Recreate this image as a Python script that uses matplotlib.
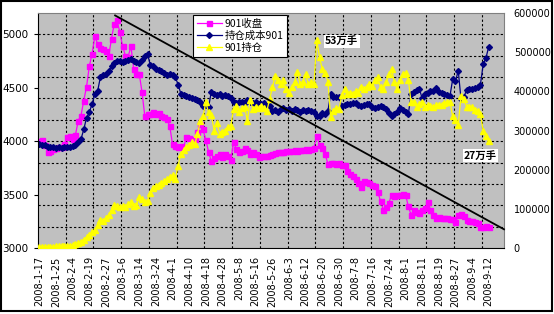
import numpy as np
import matplotlib.pyplot as plt
from matplotlib.patches import Rectangle
from matplotlib.lines import Line2D

# %%
# 901收盘 (left axis)
close_901 = [
    4000, 4010, 3960, 3900, 3910, 3930, 3940, 3950, 3950, 3970,
    4040, 4046, 4020, 4060, 4190, 4240, 4380, 4510, 4700, 4820,
    4980, 4910, 4870, 4860, 4840, 4800, 4960, 5100, 5130, 5020,
    4890, 4800, 4790, 4890, 4680, 4630, 4630, 4460, 4235, 4250,
    4255, 4270, 4250, 4260, 4240, 4225, 4206, 4140, 3970, 3955,
    3950, 3955, 3945, 4036, 4030, 4000, 4020, 4090, 4160, 4110,
    4010, 3900, 3810, 3840, 3860, 3880, 3850, 3880, 3860, 3820,
    3990, 3930, 3900, 3910, 3940, 3920, 3880, 3900, 3880, 3850,
    3860, 3860, 3860, 3870, 3880, 3890, 3895, 3900, 3900, 3905,
    3910, 3910, 3915, 3910, 3920, 3920, 3925, 3920, 3930, 3940,
    4050, 3960, 3940, 3880, 3790, 3795, 3800, 3790, 3795, 3780,
    3780, 3720, 3690, 3670, 3650, 3610, 3570, 3630, 3620, 3610,
    3590, 3580, 3520, 3440, 3360, 3380, 3420, 3500, 3490, 3500,
    3500, 3505, 3500, 3390, 3310, 3360, 3340, 3330, 3360, 3370,
    3430, 3360, 3310, 3280, 3290, 3280, 3280, 3285, 3270, 3270,
    3240, 3310, 3320, 3300, 3260, 3250, 3250, 3240, 3230, 3200,
    3200, 3205, 3200,
]

# 持仓成本901 (left axis)
cost_901 = [
    3970, 3965, 3960, 3950, 3945, 3945, 3940, 3945, 3940, 3945,
    3945, 3950, 3955, 3965, 3990, 4020, 4110, 4220, 4270, 4350,
    4440, 4470, 4600, 4620, 4625, 4660, 4700, 4730, 4750, 4750,
    4745, 4750, 4760, 4770, 4755, 4740, 4735, 4760, 4800, 4815,
    4710, 4700, 4680, 4670, 4660, 4640, 4620, 4630, 4620, 4600,
    4530, 4445, 4430, 4420, 4410, 4400, 4395, 4390, 4370, 4330,
    4340, 4320, 4465, 4440, 4430, 4440, 4420, 4430, 4420, 4400,
    4370, 4360, 4365, 4370, 4355, 4390, 4365, 4360, 4365, 4350,
    4345, 4360, 4340, 4330, 4280, 4290, 4270, 4300, 4310, 4290,
    4300, 4280, 4300, 4290, 4270, 4290, 4280, 4290, 4280, 4270,
    4235, 4240, 4260, 4250, 4280, 4440, 4410, 4410, 4415, 4330,
    4335, 4350, 4345, 4355, 4360, 4335, 4325, 4340, 4350, 4345,
    4320, 4315, 4320, 4330, 4320, 4300, 4260, 4235, 4250, 4270,
    4310, 4290, 4270, 4250, 4440, 4460, 4475, 4490, 4400, 4440,
    4450, 4470, 4470, 4500, 4460, 4450, 4440, 4430, 4420, 4580,
    4560, 4660, 4395, 4410, 4480, 4490, 4490, 4500, 4510, 4530,
    4720, 4780, 4885,
]

# 901持仓 (right axis)
oi_901 = [
    2000, 2500, 3000, 3000, 3500, 3500, 4000, 4000, 4500, 5000,
    5000, 6000, 7500, 10000, 13000, 16000, 21000, 27000, 33000, 40000,
    45000, 60000, 72000, 70000, 76000, 85000, 97000, 110000, 108000, 104000,
    106000, 104000, 112000, 118000, 108000, 110000, 130000, 125000, 118000, 120000,
    140000, 152000, 158000, 162000, 166000, 170000, 176000, 182000, 186000, 176000,
    210000, 240000, 250000, 258000, 262000, 270000, 265000, 290000, 325000, 336000,
    372000, 346000, 340000, 300000, 318000, 292000, 296000, 300000, 310000, 312000,
    354000, 362000, 346000, 358000, 360000, 325000, 378000, 355000, 360000, 358000,
    362000, 358000, 350000, 380000, 410000, 440000, 430000, 418000, 428000, 405000,
    397000, 410000, 425000, 450000, 418000, 425000, 443000, 418000, 423000, 418000,
    530000, 487000, 456000, 448000, 425000, 335000, 350000, 358000, 354000, 390000,
    405000, 392000, 397000, 392000, 400000, 397000, 410000, 405000, 412000, 418000,
    413000, 430000, 436000, 410000, 405000, 423000, 445000, 456000, 423000, 405000,
    430000, 443000, 448000, 430000, 372000, 374000, 361000, 368000, 374000, 361000,
    366000, 362000, 359000, 366000, 364000, 366000, 370000, 372000, 374000, 336000,
    328000, 315000, 387000, 380000, 361000, 360000, 359000, 352000, 349000, 341000,
    300000, 285000, 272000,
]

date_labels = [
    '2008-1-17', '2008-1-25', '2008-2-4', '2008-2-19', '2008-2-27', '2008-3-6',
    '2008-3-14', '2008-3-24', '2008-4-1', '2008-4-10', '2008-4-18', '2008-4-28',
    '2008-5-8', '2008-5-16', '2008-5-26', '2008-6-3', '2008-6-12', '2008-6-20',
    '2008-6-30', '2008-7-8', '2008-7-16', '2008-7-24', '2008-8-1', '2008-8-11',
    '2008-8-19', '2008-8-27', '2008-9-4', '2008-9-12',
]
label_step = 6
n_categories = 168

# hand drawn trend line (category index, price)
trend_x = [27.3, 167.5]
trend_y = [5177, 3175]

# %%
cjk = ['Noto Sans CJK SC', 'DejaVu Sans']
x = np.arange(len(close_901))

fig = plt.figure(figsize=(5.54, 3.14), dpi=100)
ax = fig.add_axes([38 / 554, 1 - 248 / 314, 466 / 554, 235 / 314])
ax.set_facecolor('#C0C0C0')
ax.set_xlim(-0.5, n_categories - 0.5)
ax.set_ylim(3000, 5200)

ax.set_yticks(np.arange(3000, 5001, 500))
ax.set_yticks(np.arange(3200, 5001, 200), minor=True)
ax.yaxis.remove_overlapping_locs = False
ax.set_xticks(np.arange(0, len(close_901), label_step))
ax.set_xticklabels(date_labels, rotation=90, fontsize=7)
ax.set_xticks(np.arange(9.5, n_categories, 10), minor=True)
ax.grid(which='minor', color='black', linestyle=(0, (2, 2)), linewidth=0.8)
ax.tick_params(axis='x', which='both', length=0, pad=6)
ax.tick_params(axis='y', which='major', length=3, labelsize=7.5, pad=4)
ax.tick_params(axis='y', which='minor', length=0)
ax.set_axisbelow(True)
for s in ['top', 'right']:
    ax.spines[s].set_color('#808080')

l1, = ax.plot(x, close_901, color='#FF00FF', lw=0.9, marker='s', ms=3.6,
              mec='#FF00FF', mfc='#FF00FF', label='901收盘')
l2, = ax.plot(x, cost_901, color='#000080', lw=0.9, marker='D', ms=3.0,
              mec='#000080', mfc='#000080', label='持仓成本901')

ax2 = ax.twinx()
ax2.set_ylim(0, 600000)
ax2.set_yticks(np.arange(0, 600001, 100000))
ax2.tick_params(axis='y', length=0, labelsize=7, pad=7)
for s in ['top', 'right', 'left', 'bottom']:
    ax2.spines[s].set_visible(False)
l3, = ax2.plot(x, oi_901, color='#FFFF00', lw=0.9, marker='^', ms=3.8,
               mec='#FFFF00', mfc='#FFFF00', label='901持仓')

ax2.plot(trend_x, trend_y, color='black', lw=1.3, transform=ax.transData, clip_on=False)

ax2.text(109, 528000, '53万手', fontsize=7.5, fontweight='bold', family=cjk,
         ha='center', va='center', bbox=dict(facecolor='white', edgecolor='none', pad=1))
ax2.text(159, 236000, '27万手', fontsize=7.5, fontweight='bold', family=cjk,
         ha='center', va='center', bbox=dict(facecolor='white', edgecolor='none', pad=1))

leg = ax2.legend(handles=[l1, l2, l3], loc='upper left', bbox_to_anchor=(0.333, 0.992),
                 borderaxespad=0, fancybox=False, edgecolor='black', framealpha=1,
                 prop={'family': cjk, 'size': 7.5}, handlelength=2.4, handletextpad=0.3,
                 labelspacing=0.2, borderpad=0.35)
leg.get_frame().set_linewidth(0.8)

fig.patches.append(Rectangle((0.002, 0.01), 0.994, 0.986, transform=fig.transFigure,
                             fill=False, edgecolor='black', lw=1.5))

fig.savefig('out.png', dpi=100)
